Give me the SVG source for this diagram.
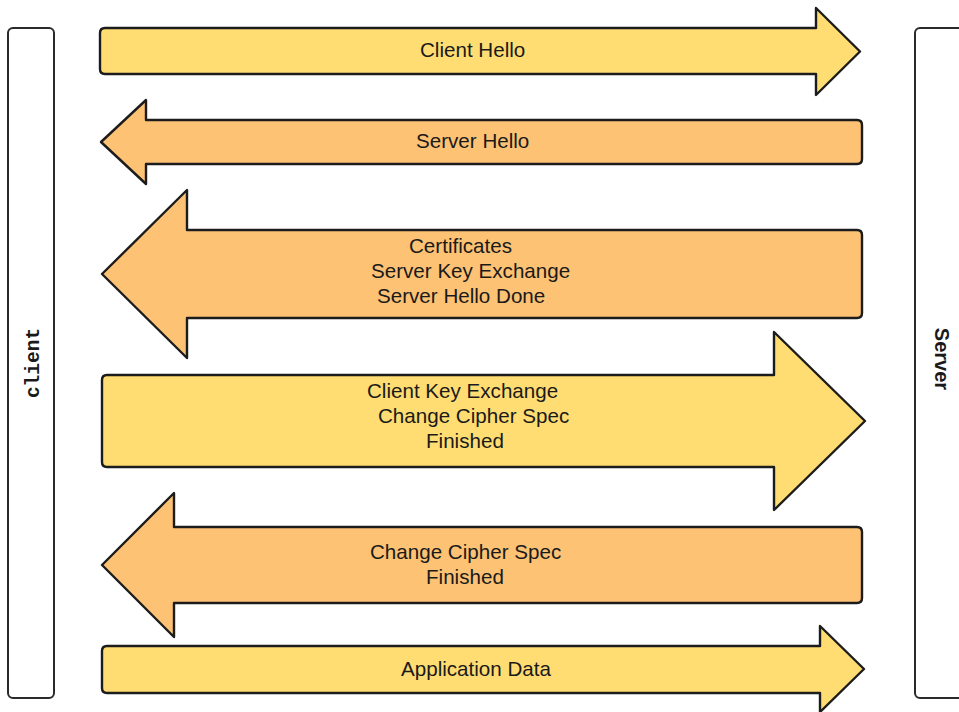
<svg xmlns="http://www.w3.org/2000/svg" width="959" height="712" viewBox="0 0 959 712">
<style>
.box{fill:#ffffff;stroke:#2a2a2a;stroke-width:2}
.y{fill:#FFDD72;stroke:#1c1c1c;stroke-width:2.4;stroke-linejoin:round}
.o{fill:#FDC274;stroke:#1c1c1c;stroke-width:2.4;stroke-linejoin:round}
.t{font-family:"Liberation Sans",Arial,sans-serif;font-size:20.6px;fill:#1a1a1a}
.lane{font-weight:bold;fill:#1a1a1a}
</style>
<rect width="959" height="712" fill="#ffffff"/>
<g id="client">
<rect class="box" x="8" y="28" width="46" height="670" rx="5"/>
<text class="lane" font-size="19.5px" font-family="'Liberation Mono','Courier New',monospace" transform="translate(32,363) rotate(-90)" text-anchor="middle" dy="0.35em">client</text>
</g>
<g id="server">
<rect class="box" x="915" y="28" width="52" height="670" rx="5"/>
<text class="lane" font-size="20px" font-family="'Liberation Sans',Arial,sans-serif" transform="translate(942,359) rotate(90)" text-anchor="middle" dy="0.35em">Server</text>
</g>
<g id="connectors">
<g id="m1">
<path class="y" d="M105,28 H816 V8 L860,51.5 L816,95 V74 H105 Q100,74 100,69 V33 Q100,28 105,28 Z"/>
<text class="t" x="420" y="57">Client Hello</text>
</g>
<g id="m2">
<path class="o" d="M101,142 L146,100 V120 H857 Q862,120 862,125 V159 Q862,164 857,164 H146 V184 Z"/>
<text class="t" x="416" y="148">Server Hello</text>
</g>
<g id="m3">
<path class="o" d="M102,274 L187,190 V230 H857 Q862,230 862,235 V313 Q862,318 857,318 H187 V358 Z"/>
<text class="t" x="409" y="253">Certificates</text>
<text class="t" x="371" y="278">Server Key Exchange</text>
<text class="t" x="377" y="303">Server Hello Done</text>
</g>
<g id="m4">
<path class="y" d="M107,375 H774 V332 L865,421 L774,510 V467 H107 Q102,467 102,462 V380 Q102,375 107,375 Z"/>
<text class="t" x="367" y="398">Client Key Exchange</text>
<text class="t" x="378" y="423">Change Cipher Spec</text>
<text class="t" x="426" y="448">Finished</text>
</g>
<g id="m5">
<path class="o" d="M102,565 L174,493 V527 H857 Q862,527 862,532 V598 Q862,603 857,603 H174 V637 Z"/>
<text class="t" x="370" y="559">Change Cipher Spec</text>
<text class="t" x="426" y="584">Finished</text>
</g>
<g id="m6">
<path class="y" d="M107,646 H820 V626 L864,669 L820,712 V693 H107 Q102,693 102,688 V651 Q102,646 107,646 Z"/>
<text class="t" x="401" y="676">Application Data</text>
</g>
</g>
</svg>
